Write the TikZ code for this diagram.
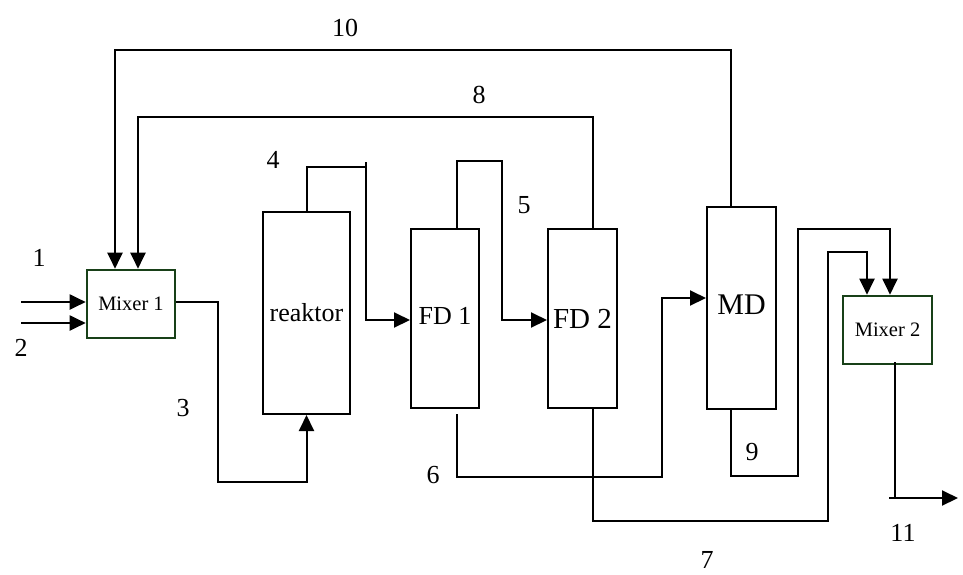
\documentclass[tikz,border=0pt]{standalone}
\usepackage{fontspec}
\setmainfont{Liberation Serif}
\usetikzlibrary{arrows.meta}
\begin{document}
\begin{tikzpicture}[x=1pt,y=-1pt,
  line width=2pt,
  unit/.style={draw=black,line width=2pt,rectangle,inner sep=0pt,fill=white,font=\fontsize{26}{30}\selectfont},
  mixer/.style={draw=mixgreen,line width=2.6pt,rectangle,inner sep=0pt,fill=white,font=\fontsize{20.5}{24}\selectfont},
  arr/.style={-{Triangle[length=16pt,width=15pt]}},
  lbl/.style={font=\fontsize{26}{30}\selectfont,inner sep=0pt}]
\definecolor{mixgreen}{RGB}{24,64,24}
\useasboundingbox (0,0) rectangle (963,574);
% units
\node[mixer,minimum width=88pt,minimum height=68pt] (m1) at (131,304) {\raisebox{-6pt}{Mixer 1}};
\node[unit,minimum width=87pt,minimum height=202pt] (re) at (306.5,313) {reaktor};
\node[unit,minimum width=68pt,minimum height=179pt] (fd1) at (445,318.5) {\raisebox{5pt}{FD 1}};
\node[unit,minimum width=69pt,minimum height=179pt,font=\fontsize{29}{32}\selectfont] (fd2) at (582.5,318.5) {\raisebox{-6pt}{FD 2}};
\node[unit,minimum width=69pt,minimum height=202pt,font=\fontsize{30}{34}\selectfont] (md) at (741.5,308) {\raisebox{6pt}{MD}};
\node[mixer,minimum width=89pt,minimum height=68pt] (m2) at (887.5,330) {\raisebox{-6pt}{Mixer 2}};
% free ends and bends
\coordinate (in1) at (21,302);
\coordinate (in2) at (21,323);
\coordinate (c3) at (218,482);
\coordinate (c4) at (366,167);
\coordinate (c5) at (502,161);
\coordinate (c6) at (662,477);
\coordinate (c7a) at (828,521);
\coordinate (c7b) at (867,252);
\coordinate (c9a) at (798,476);
\coordinate (c9b) at (890,229);
\coordinate (c8) at (138,117);
\coordinate (c10) at (115,50);
\coordinate (c11) at (895,498);
\coordinate (c11s) at (889,498);
\coordinate (c11e) at (958,498);
% streams
\draw[arr] (in1) -- (in1 -| m1.west);
\draw[arr] (in2) -- (in2 -| m1.west);
\draw[arr] ([yshift=2pt]m1.east) -| (c3) -| (re.south);
\draw[arr] (re.north) |- (c4) |- ([yshift=-1.5pt]fd1.west);
\draw (c4) -- ++(0,-5);
\draw[arr] ([xshift=12pt]fd1.north) |- (c5) |- ([yshift=-1.5pt]fd2.west);
\draw[arr] ([xshift=12pt,yshift=-5pt]fd1.south) |- (c6) |- ([yshift=10pt]md.west);
\draw[arr] ([xshift=10.5pt]fd2.south) |- (c7a) |- (c7b) -- (c7b |- m2.north);
\draw[arr] ([xshift=-10.5pt]md.south) |- (c9a) |- (c9b) -- (c9b |- m2.north);
\draw[arr] ([xshift=10.5pt]fd2.north) |- (c8) -- (c8 |- m1.north);
\draw[arr] ([xshift=-10.5pt]md.north) |- (c10) -- (c10 |- m1.north);
\draw ([xshift=7.5pt,yshift=3pt]m2.south) -- (c11);
\draw[arr] (c11s) -- (c11e);
% labels
\node[lbl] (l1) at (39,258) {1};
\node[lbl] (l2) at (21,348) {2};
\node[lbl] (l3) at (183,408) {3};
\node[lbl] (l4) at (273,160) {4};
\node[lbl] (l5) at (524,205) {5};
\node[lbl] (l6) at (433,475) {6};
\node[lbl] (l7) at (707,560) {7};
\node[lbl] (l8) at (479,95) {8};
\node[lbl] (l9) at (752,452) {9};
\node[lbl] (l10) at (345,28) {10};
\node[lbl] (l11) at (903,533) {11};
\end{tikzpicture}
\end{document}
